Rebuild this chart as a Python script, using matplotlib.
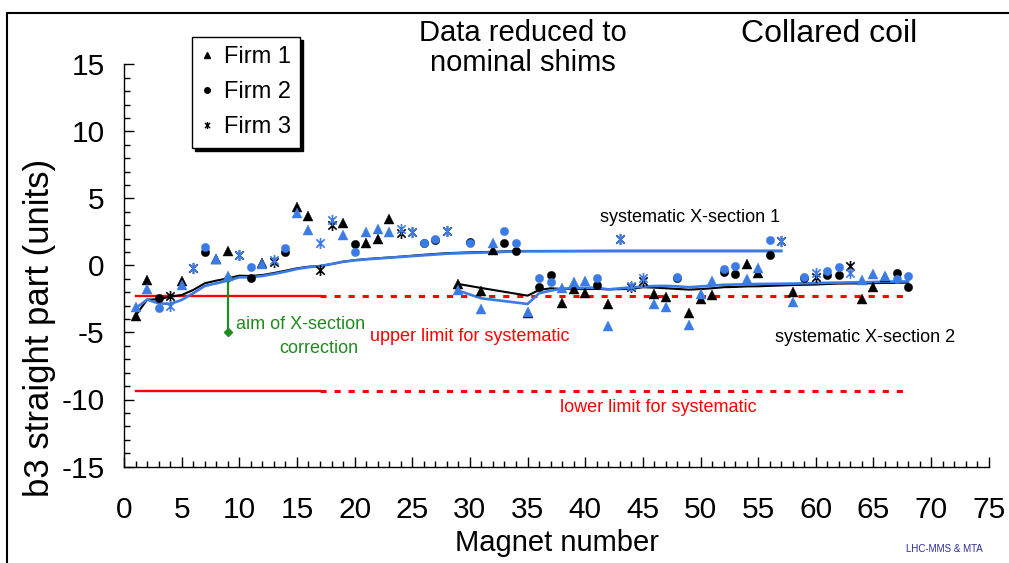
import matplotlib
matplotlib.use("Agg")
import matplotlib.pyplot as plt
from matplotlib.lines import Line2D
from matplotlib.patches import Rectangle
from matplotlib.path import Path
from matplotlib.ticker import MultipleLocator

plt.rcParams["font.family"] = ["Liberation Sans", "DejaVu Sans"]
plt.rcParams["axes.unicode_minus"] = False

BLUE = "#3a7be6"
RED = "#ff0000"
GREEN = "#1e8c1e"

# b3 per magnet: raw (black) and reduced to nominal shims (blue)
firm1_mag = [1, 2, 5, 8, 9, 12, 15, 16, 19, 21, 22, 23, 29, 31, 32, 35, 38, 39, 40,
             42, 46, 47, 49, 50, 51, 54, 55, 58, 64, 65, 66]
firm1_raw = [-3.77, -1.08, -1.13, 0.45, 1.08, 0.15, 4.34, 3.69, 3.17, 1.70, 1.98, 3.45,
             -1.38, -1.88, 1.16, -3.57, -2.82, -1.78, -2.07, -2.90, -2.16, -2.37, -3.57,
             -2.52, -2.20, 0.11, -0.58, -1.96, -2.52, -1.58, -0.88]
firm1_red = [-3.13, -1.75, -1.46, 0.49, -0.80, 0.11, 3.90, 2.63, 2.24, 2.52, 2.70, 2.52,
             -1.85, -3.25, 1.70, -3.45, -1.70, -1.21, -1.16, -4.49, -2.85, -3.07, -4.44,
             -2.13, -1.13, -1.03, -0.21, -2.70, -1.08, -0.63, -0.75]

firm2_mag = [3, 7, 11, 14, 20, 26, 27, 30, 33, 34, 36, 37, 41, 48, 52, 53, 56, 59, 61,
             62, 67, 68]
firm2_raw = [-2.43, 1.03, -0.96, 1.03, 1.58, 1.65, 1.90, 1.75, 1.66, 1.10, -1.63, -0.71,
             -1.46, -0.90, -0.46, -0.63, 0.78, -0.95, -0.71, -0.71, -0.54, -1.63]
firm2_red = [-3.17, 1.40, -0.09, 1.28, 0.99, 1.70, 1.96, 1.68, 2.57, 1.66, -0.91, -1.21,
             -0.91, -0.84, -0.26, -0.04, 1.90, -0.88, -0.39, -0.13, -1.03, -0.78]

firm3_mag = [4, 6, 10, 13, 17, 18, 24, 25, 28, 43, 44, 45, 57, 60, 63]
firm3_raw = [-2.25, -0.21, 0.78, 0.28, -0.34, 3.02, 2.40, 2.52, 2.54, 1.96, -1.63,
             -1.16, 1.85, -0.88, -0.04]
firm3_red = [-3.00, -0.21, 0.78, 0.41, 1.70, 3.40, 2.70, 2.52, 2.57, 1.96, -1.55,
             -0.96, 1.85, -0.54, -0.54]

# running averages, X-section 1
xs1_mag = list(range(1, 29)) + [30, 32, 33, 34, 43, 56, 57]
xs1_raw = [-3.75, -2.55, -2.52, -2.33, -2.20, -1.83, -1.33, -1.13, -0.96, -0.76,
           -0.78, -0.71, -0.56, -0.39, -0.21, -0.09, -0.04, 0.11, 0.28, 0.40, 0.48,
           0.54, 0.60, 0.66, 0.73, 0.80, 0.86, 0.92, 0.98, 1.02, 1.05, 1.08, 1.10,
           1.10, 1.10]
xs1_red = [-3.20, -2.55, -2.82, -2.87, -2.57, -2.07, -1.53, -1.33, -1.13, -0.88,
           -0.88, -0.78, -0.63, -0.46, -0.26, -0.13, -0.04, 0.11, 0.28, 0.38, 0.46,
           0.52, 0.58, 0.64, 0.70, 0.76, 0.82, 0.88, 0.94, 0.98, 1.02, 1.05, 1.07,
           1.07, 1.07]

# running averages, X-section 2
xs2_mag = [29, 31] + list(range(35, 43)) + list(range(44, 56)) + list(range(58, 69))
xs2_raw = [-1.38, -1.68, -2.25, -1.83, -1.70, -1.75, -1.75, -1.76, -1.75, -1.78,
           -1.75, -1.62, -1.65, -1.70, -1.75, -1.80, -1.76, -1.70, -1.62, -1.60,
           -1.56, -1.55, -1.46, -1.44, -1.42, -1.38, -1.35, -1.34, -1.34, -1.32,
           -1.30, -1.29, -1.28]
xs2_red = [-1.88, -2.45, -2.87, -2.07, -1.88, -1.72, -1.70, -1.66, -1.66, -1.78,
           -1.63, -1.58, -1.53, -1.52, -1.56, -1.62, -1.56, -1.50, -1.44, -1.42,
           -1.40, -1.38, -1.35, -1.33, -1.31, -1.29, -1.28, -1.26, -1.25, -1.23,
           -1.21, -1.20, -1.19]

upper_limit = -2.3
lower_limit = -9.35
limit_solid = [1, 17]
limit_dotted = [17, 68]

aim_mag = 9
aim_target = -5.0

# asterisk: vertical bar plus a cross
STAR = Path([(0, -1), (0, 1), (-0.75, -0.75), (0.75, 0.75), (-0.75, 0.75), (0.75, -0.75)],
            [Path.MOVETO, Path.LINETO] * 3)

fig = plt.figure(figsize=(10.09, 5.63), dpi=100)
ax = fig.add_axes([124 / 1009, 1 - 466.5 / 563, (988.75 - 124) / 1009, (466.5 - 64.5) / 563])

# limits for the systematic
for lim in (upper_limit, lower_limit):
    ax.plot(limit_solid, [lim, lim], color=RED, lw=1.7, zorder=1)
    ax.plot(limit_dotted, [lim, lim], color=RED, lw=2.2, ls=(0, (2.0, 2.6)), zorder=1)

# running averages
ax.plot(xs1_mag, xs1_raw, color="black", lw=1.5, zorder=2)
ax.plot(xs1_mag, xs1_red, color=BLUE, lw=1.9, zorder=2)
ax.plot(xs2_mag, xs2_raw, color="black", lw=1.5, zorder=2)
ax.plot(xs2_mag, xs2_red, color=BLUE, lw=1.9, zorder=2)

# aim of X-section correction
aim_top = xs1_raw[xs1_mag.index(aim_mag)]
ax.plot([aim_mag, aim_mag], [aim_top, aim_target], color=GREEN, lw=1.6,
        marker="D", ms=4, zorder=3)

# magnets
for col, k in (("black", "raw"), (BLUE, "red")):
    f1 = firm1_raw if k == "raw" else firm1_red
    f2 = firm2_raw if k == "raw" else firm2_red
    f3 = firm3_raw if k == "raw" else firm3_red
    ax.plot(firm1_mag, f1, ls="none", marker="^", ms=6.5, mew=0.3, color=col, zorder=4)
    ax.plot(firm2_mag, f2, ls="none", marker="o", ms=6, mew=0.3, color=col, zorder=4)
    ax.plot(firm3_mag, f3, ls="none", marker=STAR, ms=8, mew=1.2, color=col,
            mfc="none", zorder=4)

ax.set_xlim(0, 75)
ax.set_ylim(-15, 15)
ax.set_xticks(range(0, 76, 5))
ax.set_yticks(range(-15, 16, 5))
ax.xaxis.set_minor_locator(MultipleLocator(1))
ax.yaxis.set_minor_locator(MultipleLocator(1))
ax.tick_params(which="major", direction="in", length=7, width=1, labelsize=21.5)
ax.tick_params(which="minor", direction="in", length=4, width=1)
ax.tick_params(axis="x", which="major", pad=21)
ax.tick_params(axis="y", which="major", pad=14)
for s in ("top", "right"):
    ax.spines[s].set_visible(False)
for s in ("left", "bottom"):
    ax.spines[s].set_linewidth(1)

ax.text(41.3, 3.6, "systematic X-section 1", fontsize=13, ha="left", va="center")
ax.text(56.5, -5.4, "systematic X-section 2", fontsize=13, ha="left", va="center")
ax.text(21.3, -5.33, "upper limit for systematic", fontsize=13, color=RED,
        ha="left", va="center")
ax.text(37.8, -10.6, "lower limit for systematic", fontsize=13, color=RED,
        ha="left", va="center")
ax.text(9.7, -4.44, "aim of X-section", fontsize=13, color=GREEN, ha="left", va="center")
ax.text(16.9, -6.23, "correction", fontsize=13, color=GREEN, ha="center", va="center")

fig.text(40 / 1009, 1 - 328 / 563, "b3 straight part (units)", fontsize=25,
         rotation=90, ha="center", va="center")
fig.text(557 / 1009, 1 - 543 / 563, "Magnet number", fontsize=21, ha="center", va="center")
fig.text(523 / 1009, 1 - 48 / 563, "Data reduced to\nnominal shims", fontsize=21,
         ha="center", va="center", linespacing=1.1)
fig.text(829 / 1009, 1 - 34 / 563, "Collared coil", fontsize=23, ha="center", va="center")
fig.text(944 / 1009, 1 - 549 / 563, "LHC-MMS & MTA", fontsize=7, color="#2b2b9a",
         ha="center", va="center")

handles = [
    Line2D([], [], ls="none", marker="^", ms=4, color="black"),
    Line2D([], [], ls="none", marker="o", ms=4, color="black"),
    Line2D([], [], ls="none", marker=STAR, ms=5, mew=1, color="black"),
]
leg = fig.legend(handles, ["Firm 1", "Firm 2", "Firm 3"], loc="upper left",
                 bbox_to_anchor=(192 / 1009, 1 - 37 / 563), fontsize=17,
                 frameon=True, fancybox=False, edgecolor="black", framealpha=1,
                 shadow={"color": "black", "alpha": 1}, borderaxespad=0,
                 handlelength=0.5, handletextpad=0.45, labelspacing=0.55, borderpad=0.4)
leg.get_frame().set_linewidth(1)

# frame round the whole picture
fig.add_artist(Rectangle((7 / 1009, -0.2), 2, 1.2 - 13 / 563, transform=fig.transFigure,
                         fill=False, lw=1.5, ec="black"))

fig.savefig("out.png", dpi=100)
